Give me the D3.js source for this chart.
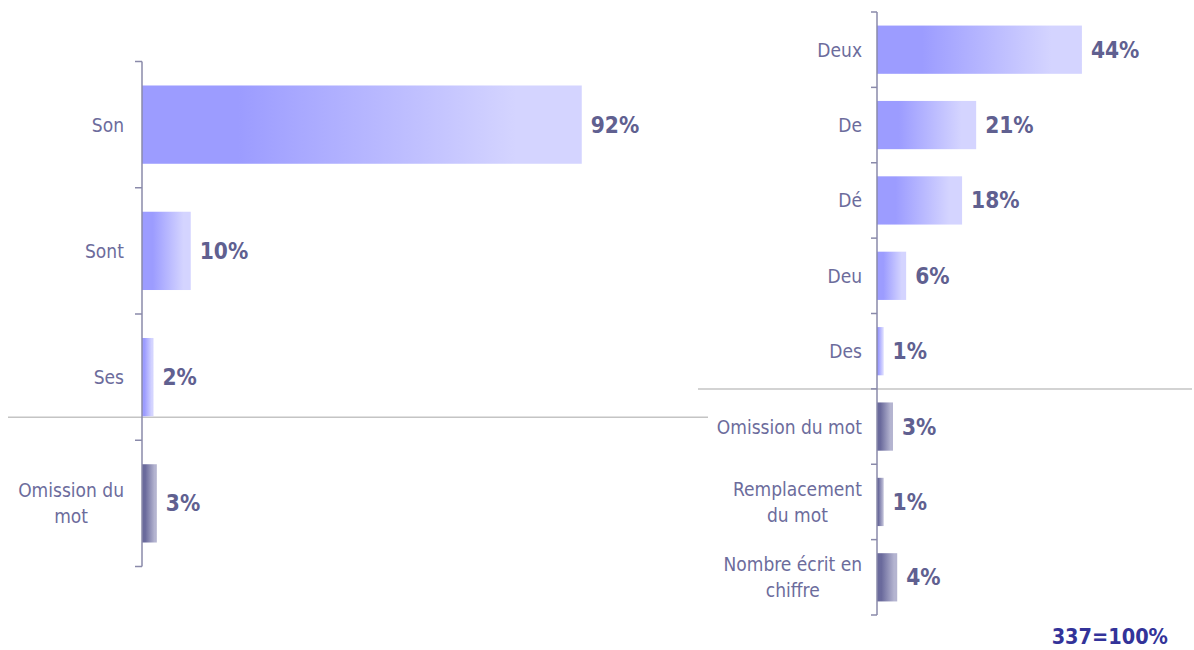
<!DOCTYPE html>
<html><head><meta charset="utf-8">
<script src="https://cdn.jsdelivr.net/npm/d3@7"></script>
<style>
body{margin:0;background:#fff;}
svg{display:block;font-family:"DejaVu Sans Condensed","DejaVu Sans",sans-serif;}
</style></head>
<body>
<svg id="c" width="1194" height="650"></svg>
<script>
// Left chart data (labels show rounded %)
const leftCategories = ["Son", "Sont", "Ses", "Omission du\nmot"];
const leftValues = [92, 10.2, 2.4, 3.1];
const leftGroups = ["main", "main", "main", "other"];
// Right chart data
const rightCategories = ["Deux", "De", "Dé", "Deu", "Des", "Omission du mot", "Remplacement\ndu mot", "Nombre écrit en\nchiffre"];
const rightValues = [43.6, 21.1, 18.1, 6.2, 1.4, 3.4, 1.4, 4.3];
const rightGroups = ["main", "main", "main", "main", "main", "other", "other", "other"];
const baseText = "337=100%";

const svg = d3.select("#c");
const defs = svg.append("defs");
function grad(id, c0, c1) {
  const g = defs.append("linearGradient").attr("id", id).attr("x1", "0%").attr("x2", "100%").attr("y1", "0%").attr("y2", "0%");
  g.append("stop").attr("offset", "0%").attr("stop-color", c0);
  g.append("stop").attr("offset", "22%").attr("stop-color", c0);
  g.append("stop").attr("offset", "85%").attr("stop-color", c1);
  g.append("stop").attr("offset", "100%").attr("stop-color", c1);
}
grad("gMain", "#9c9cff", "#d4d4ff");
grad("gOther", "#6a6a9c", "#b4b4d0");

const labelColor = "#6c6c9c", valueColor = "#606090", axisColor = "#8a8aaa";

function drawChart(cfg) {
  const {cats, vals, groups, x0, pxPer100, y0, y1, tickLen, labelGap, sepY, sepX0, sepX1} = cfg;
  const x = d3.scaleLinear().domain([0, 100]).range([x0, x0 + pxPer100]);
  const y = d3.scaleBand().domain(cats).range([y0, y1]).paddingInner(cfg.pad).paddingOuter(cfg.pad / 2);
  const g = svg.append("g");
  const data = cats.map((c, i) => ({c, v: vals[i], g: groups[i]}));

  // separator
  g.append("line").attr("x1", sepX0).attr("x2", sepX1).attr("y1", sepY(y)).attr("y2", sepY(y))
    .attr("stroke", "#c4c4c4").attr("stroke-width", 1.5);

  g.selectAll("rect.bar").data(data).join("rect").attr("class", "bar")
    .attr("x", x(0)).attr("y", d => y(d.c))
    .attr("width", d => x(d.v) - x(0)).attr("height", y.bandwidth())
    .attr("fill", d => d.g === "main" ? "url(#gMain)" : "url(#gOther)");

  // axis line + ticks at band boundaries
  g.append("line").attr("x1", x0).attr("x2", x0).attr("y1", y0).attr("y2", y1)
    .attr("stroke", axisColor).attr("stroke-width", 1.5);
  const bounds = d3.range(cats.length + 1).map(i => y0 + i * y.step());
  g.selectAll("line.tick").data(bounds).join("line").attr("class", "tick")
    .attr("x1", x0 - tickLen).attr("x2", x0).attr("y1", d => d).attr("y2", d => d)
    .attr("stroke", axisColor).attr("stroke-width", 1.5);

  // category labels (lines centred, block right-aligned)
  const fs = cfg.fs, lh = cfg.lh;
  data.forEach(d => {
    const lines = d.c.split("\n");
    const cy = y(d.c) + y.bandwidth() / 2;
    const t = g.append("text").attr("fill", labelColor).attr("font-size", fs).attr("text-anchor", "middle");
    lines.forEach((ln, i) => {
      t.append("tspan").text(ln).attr("x", 0)
        .attr("y", cy + (i - (lines.length - 1) / 2) * lh).attr("dominant-baseline", "central");
    });
    const w = t.node().getBBox().width;
    t.selectAll("tspan").attr("x", x0 - labelGap - w / 2);
  });

  // values
  g.selectAll("text.val").data(data).join("text").attr("class", "val")
    .attr("x", d => x(d.v) + 9).attr("y", d => y(d.c) + y.bandwidth() / 2)
    .attr("dominant-baseline", "central").attr("font-size", cfg.vfs).attr("font-weight", "bold")
    .attr("fill", valueColor).text(d => Math.round(d.v) + "%");
}

drawChart({cats: leftCategories, vals: leftValues, groups: leftGroups, x0: 142, pxPer100: 478,
  y0: 61.5, y1: 566.5, pad: 0.38, tickLen: 7, labelGap: 18, fs: 19, lh: 26, vfs: 22.5,
  sepY: y => y("Ses") + y.bandwidth() + 1, sepX0: 8, sepX1: 708});
drawChart({cats: rightCategories, vals: rightValues, groups: rightGroups, x0: 877, pxPer100: 470,
  y0: 12, y1: 615, pad: 0.36, tickLen: 6, labelGap: 15, fs: 19, lh: 26, vfs: 22.5,
  sepY: y => y("Omission du mot") - y.step() * y.paddingInner() / 2, sepX0: 698, sepX1: 1192});

svg.append("text").attr("x", 1168).attr("y", 636).attr("text-anchor", "end").attr("dominant-baseline", "central")
  .attr("font-size", 21.5).attr("font-weight", "bold").attr("fill", "#333399").text(baseText);
</script>
</body></html>
